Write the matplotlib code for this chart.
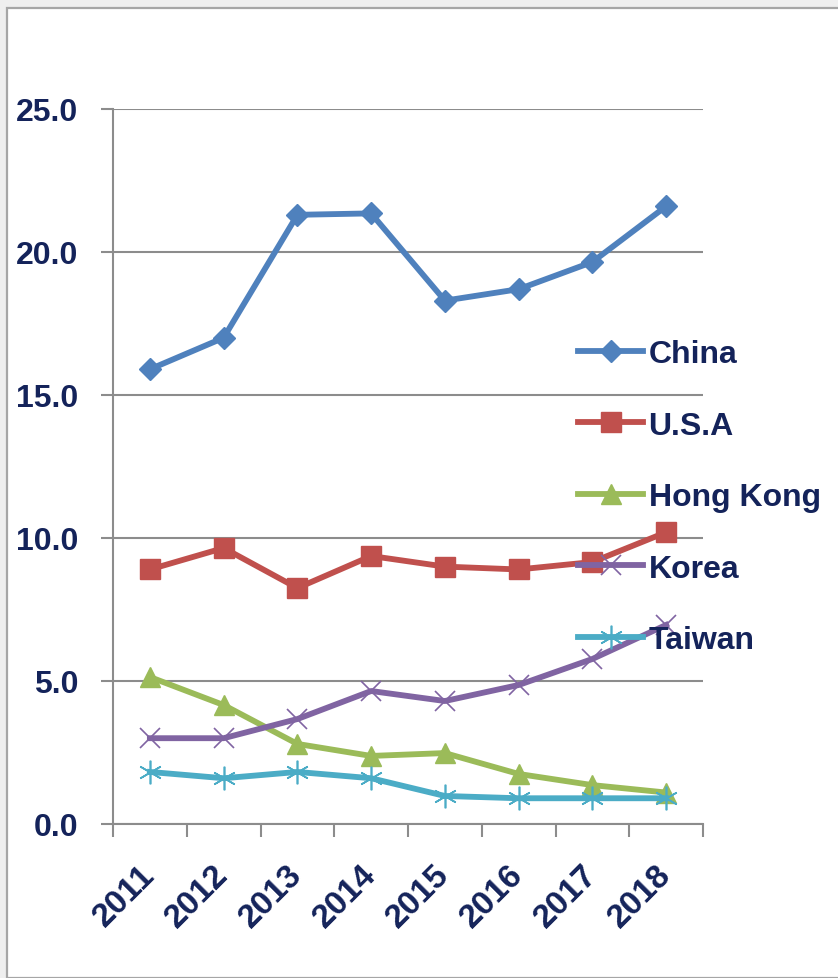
import matplotlib
matplotlib.use("Agg")
import matplotlib.pyplot as plt
from matplotlib.patches import Rectangle
import numpy as np

years = ["2011", "2012", "2013", "2014", "2015", "2016", "2017", "2018"]
china = [15.9, 17.0, 21.3, 21.35, 18.3, 18.7, 19.65, 21.6]
usa = [8.9, 9.65, 8.25, 9.37, 9.0, 8.9, 9.16, 10.2]
hong_kong = [5.14, 4.16, 2.8, 2.38, 2.48, 1.75, 1.36, 1.1]
korea = [3.0, 3.0, 3.67, 4.65, 4.3, 4.86, 5.77, 6.96]
taiwan = [1.82, 1.6, 1.82, 1.6, 0.98, 0.9, 0.9, 0.9]
series_names = ["China", "U.S.A", "Hong Kong", "Korea", "Taiwan"]
y_ticks = [0.0, 5.0, 10.0, 15.0, 20.0, 25.0]

plt.rcParams["font.family"] = ["Liberation Sans", "DejaVu Sans"]

W, H = 838, 979
fig = plt.figure(figsize=(W / 100, H / 100), dpi=100)
fig.patch.set_facecolor("#EFEFEF")
bg = Rectangle((7 / W, 0), 1.0, 1 - 9 / H, transform=fig.transFigure,
               facecolor="white", edgecolor="#A6A6A6", linewidth=1.6, zorder=-10)
fig.add_artist(bg)

ax = fig.add_axes([113 / W, 1 - 825 / H, (703 - 113) / W, (825 - 110) / H])
ax.set_facecolor("none")
ax.set_zorder(5)

txt = "#14235A"
grid_c = "#8C8C8C"
fs = 23
x = np.arange(len(years))

styles = [
    dict(color="#4F81BD", marker="D", markersize=11.5),
    dict(color="#C0504D", marker="s", markersize=14),
    dict(color="#9BBB59", marker="^", markersize=14),
    dict(color="#8064A2", marker="x", markersize=15, markeredgewidth=1.2),
    dict(color="#4BACC6", marker=(6, 2, 0), markersize=17, markeredgewidth=1.2),
]
data = [china, usa, hong_kong, korea, taiwan]
for name, vals, st in zip(series_names, data, styles):
    ax.plot(x, vals, label=name, linewidth=4.2, solid_joinstyle="round", zorder=3, **st)

ax.set_xlim(-0.5, len(years) - 0.5)
ax.set_ylim(0, 25)
ax.set_yticks(y_ticks)
ax.set_yticklabels([f"{v:.1f}" for v in y_ticks])
ax.yaxis.grid(True, color=grid_c, linewidth=1.5)
ax.set_axisbelow(True)

for s in ["top", "right"]:
    ax.spines[s].set_visible(False)
for s in ["left", "bottom"]:
    ax.spines[s].set_color(grid_c)
    ax.spines[s].set_linewidth(1.5)

ax.tick_params(axis="y", length=9, width=1.5, color=grid_c, direction="out", pad=16,
               labelsize=fs, labelcolor=txt)
ax.set_xticks(x)
ax.set_xticklabels(years, rotation=45, ha="right", va="center", rotation_mode="anchor")
ax.set_xticks(np.arange(-0.5, len(years), 1.0), minor=True)
ax.tick_params(axis="x", which="major", length=0, pad=33, labelsize=fs + 1, labelcolor=txt)
ax.tick_params(axis="x", which="minor", length=9, width=1.5, color=grid_c, direction="out")
for lab in ax.get_xticklabels() + ax.get_yticklabels():
    lab.set_fontweight("bold")

leg = ax.legend(loc="upper left", bbox_to_anchor=(578 / W, 1 - 340 / H),
                bbox_transform=fig.transFigure, frameon=False, borderpad=0, borderaxespad=0,
                handlelength=2.05, handletextpad=0.16, labelspacing=1.3,
                prop=dict(size=fs, weight="bold"))
for t in leg.get_texts():
    t.set_color(txt)

fig.savefig("out.png", dpi=100, facecolor=fig.get_facecolor())
